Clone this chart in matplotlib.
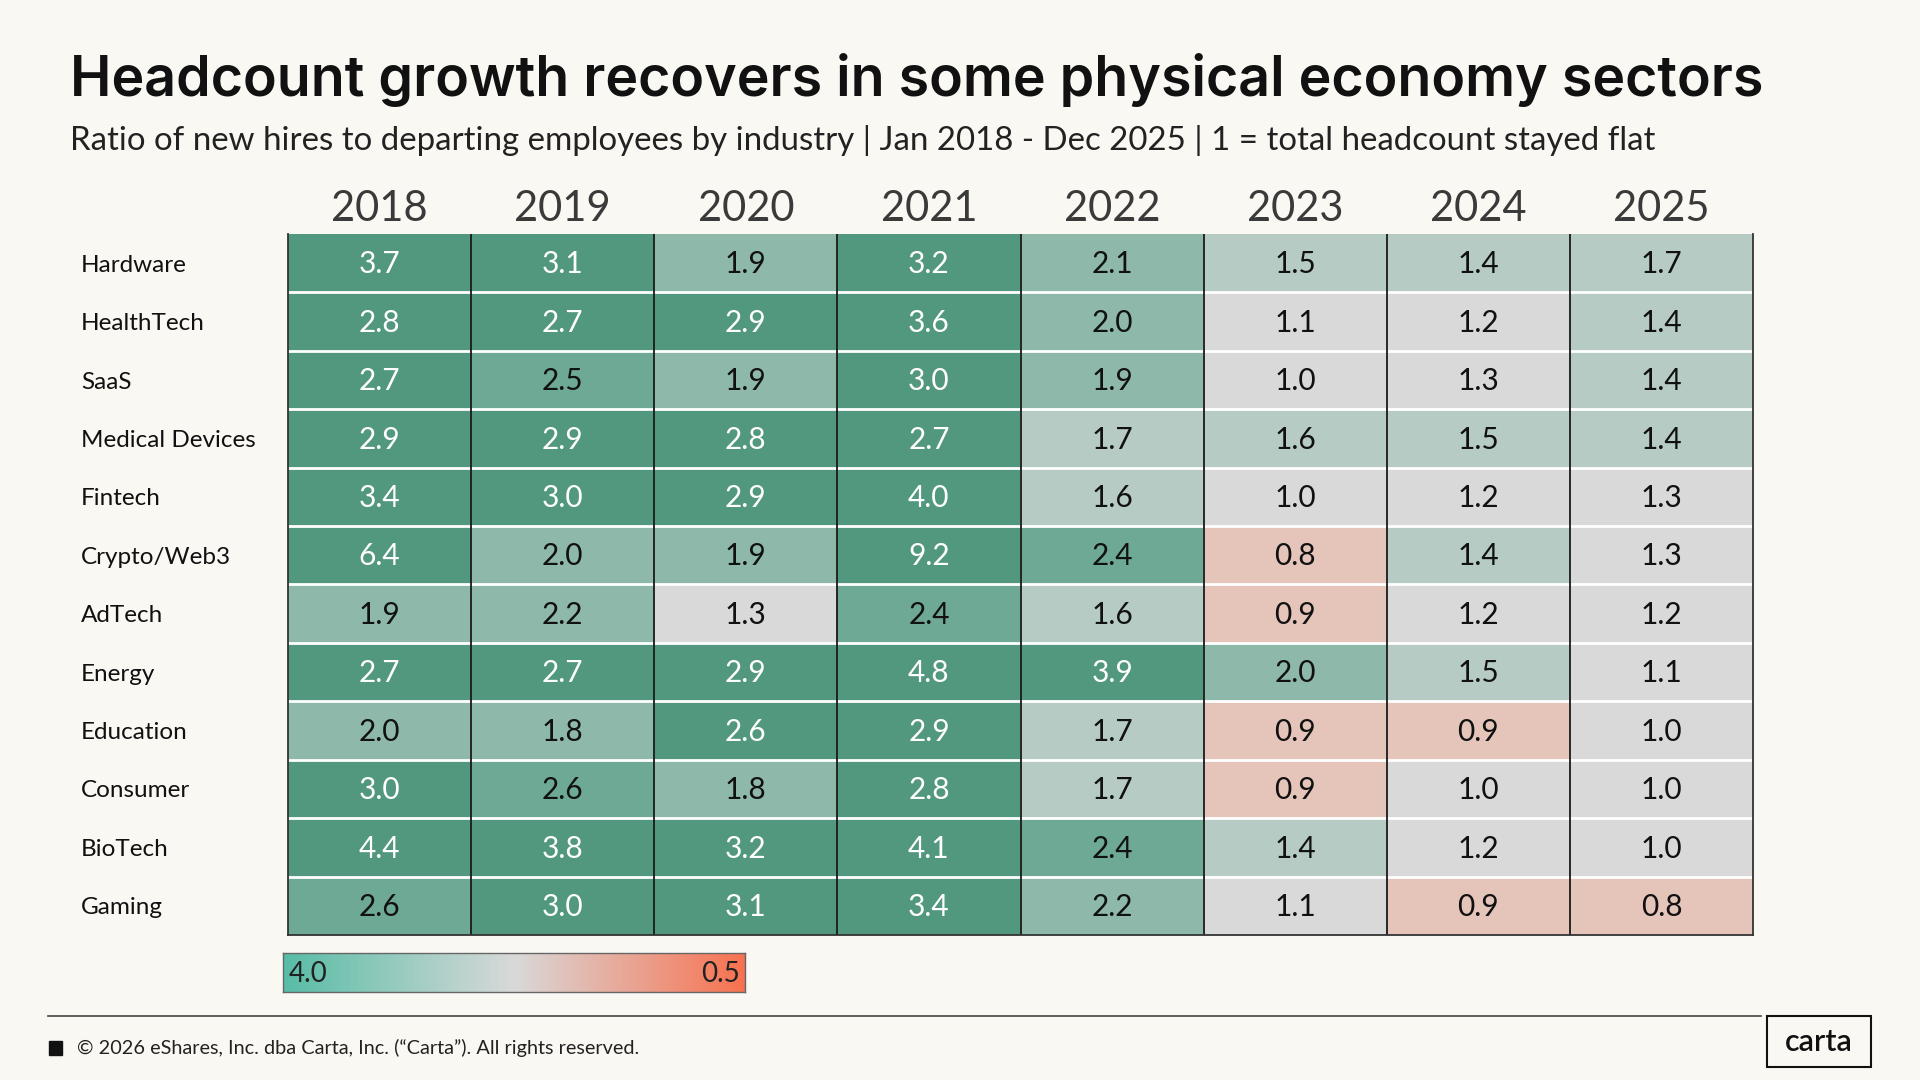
import numpy as np
import matplotlib.pyplot as plt
from matplotlib.colors import ListedColormap, BoundaryNorm, LinearSegmentedColormap
from matplotlib.patches import Rectangle

plt.rcParams["font.family"] = ["Lato", "DejaVu Sans"]

years = ["2018", "2019", "2020", "2021", "2022", "2023", "2024", "2025"]
industries = [
    "Hardware", "HealthTech", "SaaS", "Medical Devices", "Fintech", "Crypto/Web3",
    "AdTech", "Energy", "Education", "Consumer", "BioTech", "Gaming",
]
# ratio of new hires to departing employees, one row per industry
ratios = np.array([
    [3.7, 3.1, 1.9, 3.2, 2.1, 1.5, 1.4, 1.7],
    [2.8, 2.7, 2.9, 3.6, 2.0, 1.1, 1.2, 1.4],
    [2.7, 2.5, 1.9, 3.0, 1.9, 1.0, 1.3, 1.4],
    [2.9, 2.9, 2.8, 2.7, 1.7, 1.6, 1.5, 1.4],
    [3.4, 3.0, 2.9, 4.0, 1.6, 1.0, 1.2, 1.3],
    [6.4, 2.0, 1.9, 9.2, 2.4, 0.8, 1.4, 1.3],
    [1.9, 2.2, 1.3, 2.4, 1.6, 0.9, 1.2, 1.2],
    [2.7, 2.7, 2.9, 4.8, 3.9, 2.0, 1.5, 1.1],
    [2.0, 1.8, 2.64, 2.9, 1.7, 0.9, 0.9, 1.0],
    [3.0, 2.6, 1.8, 2.8, 1.7, 0.9, 1.0, 1.0],
    [4.4, 3.8, 3.2, 4.1, 2.4, 1.4, 1.2, 1.0],
    [2.6, 3.0, 3.1, 3.4, 2.2, 1.1, 0.9, 0.8],
])
legend_hi = 4.0
legend_lo = 0.5

BG = "#FAF8F3"
bins = [0, 0.95, 1.35, 1.75, 2.35, 2.62, 100]
cell_colors = ["#E5C4BA", "#D9D9D9", "#B5CBC3", "#8EB9AA", "#6EA996", "#52987F"]
cmap = ListedColormap(cell_colors)
norm = BoundaryNorm(bins, cmap.N)

fig = plt.figure(figsize=(19.2, 10.8), dpi=100, facecolor=BG)
W, H = 1920, 1080

# table
tl, tr, tt, tb = 288, 1753, 234, 935
ax = fig.add_axes([tl / W, 1 - tb / H, (tr - tl) / W, (tb - tt) / H])
nrow, ncol = ratios.shape
ax.imshow(ratios, cmap=cmap, norm=norm, aspect="auto",
          extent=(-0.5, ncol - 0.5, nrow - 0.5, -0.5), interpolation="nearest")
for r in range(nrow):
    for c in range(ncol):
        v = ratios[r, c]
        col = "white" if v >= bins[-2] else "#111111"
        ax.text(c, r + 0.02, f"{v:.1f}", ha="center", va="center", fontsize=21.5,
                color=col)
ax.hlines(np.arange(0.5, nrow - 0.5), -0.5, ncol - 0.5, colors="white", lw=2)
ax.vlines(np.arange(0.5, ncol - 0.5), -0.5, nrow - 0.5, colors="#1a1a1a", lw=1.3)
ax.set_xlim(-0.5, ncol - 0.5)
ax.set_ylim(nrow - 0.5, -0.5)
for s in ax.spines.values():
    s.set_color("#333333")
    s.set_linewidth(1.3)
ax.spines["top"].set_visible(False)

ax.xaxis.tick_top()
ax.set_xticks(range(ncol))
ax.set_xticklabels(years, fontsize=30, color="#3a3a3a")
ax.tick_params(axis="x", length=0, pad=4)
ax.set_yticks(range(nrow))
ax.set_yticklabels(industries, fontsize=17.5, color="#111111", ha="left")
ax.tick_params(axis="y", length=0, pad=(tl - 81) * 0.72)

# title block
fig.text(70 / W, 1 - 80 / H, "Headcount growth recovers in some physical economy sectors",
         fontsize=40, fontweight="semibold", color="#111111", va="center", ha="left",
         family=["Inter", "DejaVu Sans"])
fig.text(70 / W, 1 - 141 / H,
         "Ratio of new hires to departing employees by industry | Jan 2018 - Dec 2025 | 1 = total headcount stayed flat",
         fontsize=23.8, fontweight="normal", color="#222222", va="center", ha="left")

# gradient legend
lax = fig.add_axes([283 / W, 1 - 992 / H, (745 - 283) / W, (992 - 953) / H])
grad_cmap = LinearSegmentedColormap.from_list("grad", ["#57BDA6", "#D9D9D9", "#F8714F"])
lax.imshow(np.linspace(0, 1, 256)[None, :], cmap=grad_cmap, aspect="auto",
           extent=(0, 1, 0, 1))
lax.set_xticks([])
lax.set_yticks([])
for s in lax.spines.values():
    s.set_color("#666666")
    s.set_linewidth(1)
lax.text(0.012, 0.45, f"{legend_hi:.1f}", transform=lax.transAxes, ha="left",
         va="center", fontsize=20, color="#222222")
lax.text(0.988, 0.45, f"{legend_lo:.1f}", transform=lax.transAxes, ha="right",
         va="center", fontsize=20, color="#222222")

# footer
fig.add_artist(plt.Line2D([48 / W, 1761 / W], [1 - 1016 / H, 1 - 1016 / H],
                          color="#444444", lw=1.2))
fig.add_artist(Rectangle((49 / W, 1 - 1055 / H), 13 / W, 14 / H,
                         color="#111111", transform=fig.transFigure))
fig.text(77 / W, 1 - 1048 / H,
         "\u00a9 2026 eShares, Inc. dba Carta, Inc. (\u201cCarta\u201d). All rights reserved.",
         fontsize=14.3, color="#222222", va="center", ha="left")
fig.add_artist(Rectangle((1767 / W, 1 - 1067 / H), 104 / W, 51 / H, fill=False,
                         edgecolor="#111111", lw=1.5, transform=fig.transFigure))
fig.text(1819 / W, 1 - 1042 / H, "carta", fontsize=22, fontweight="semibold",
         color="#111111", ha="center", va="center")

fig.savefig("out.png", dpi=100, facecolor=BG)
